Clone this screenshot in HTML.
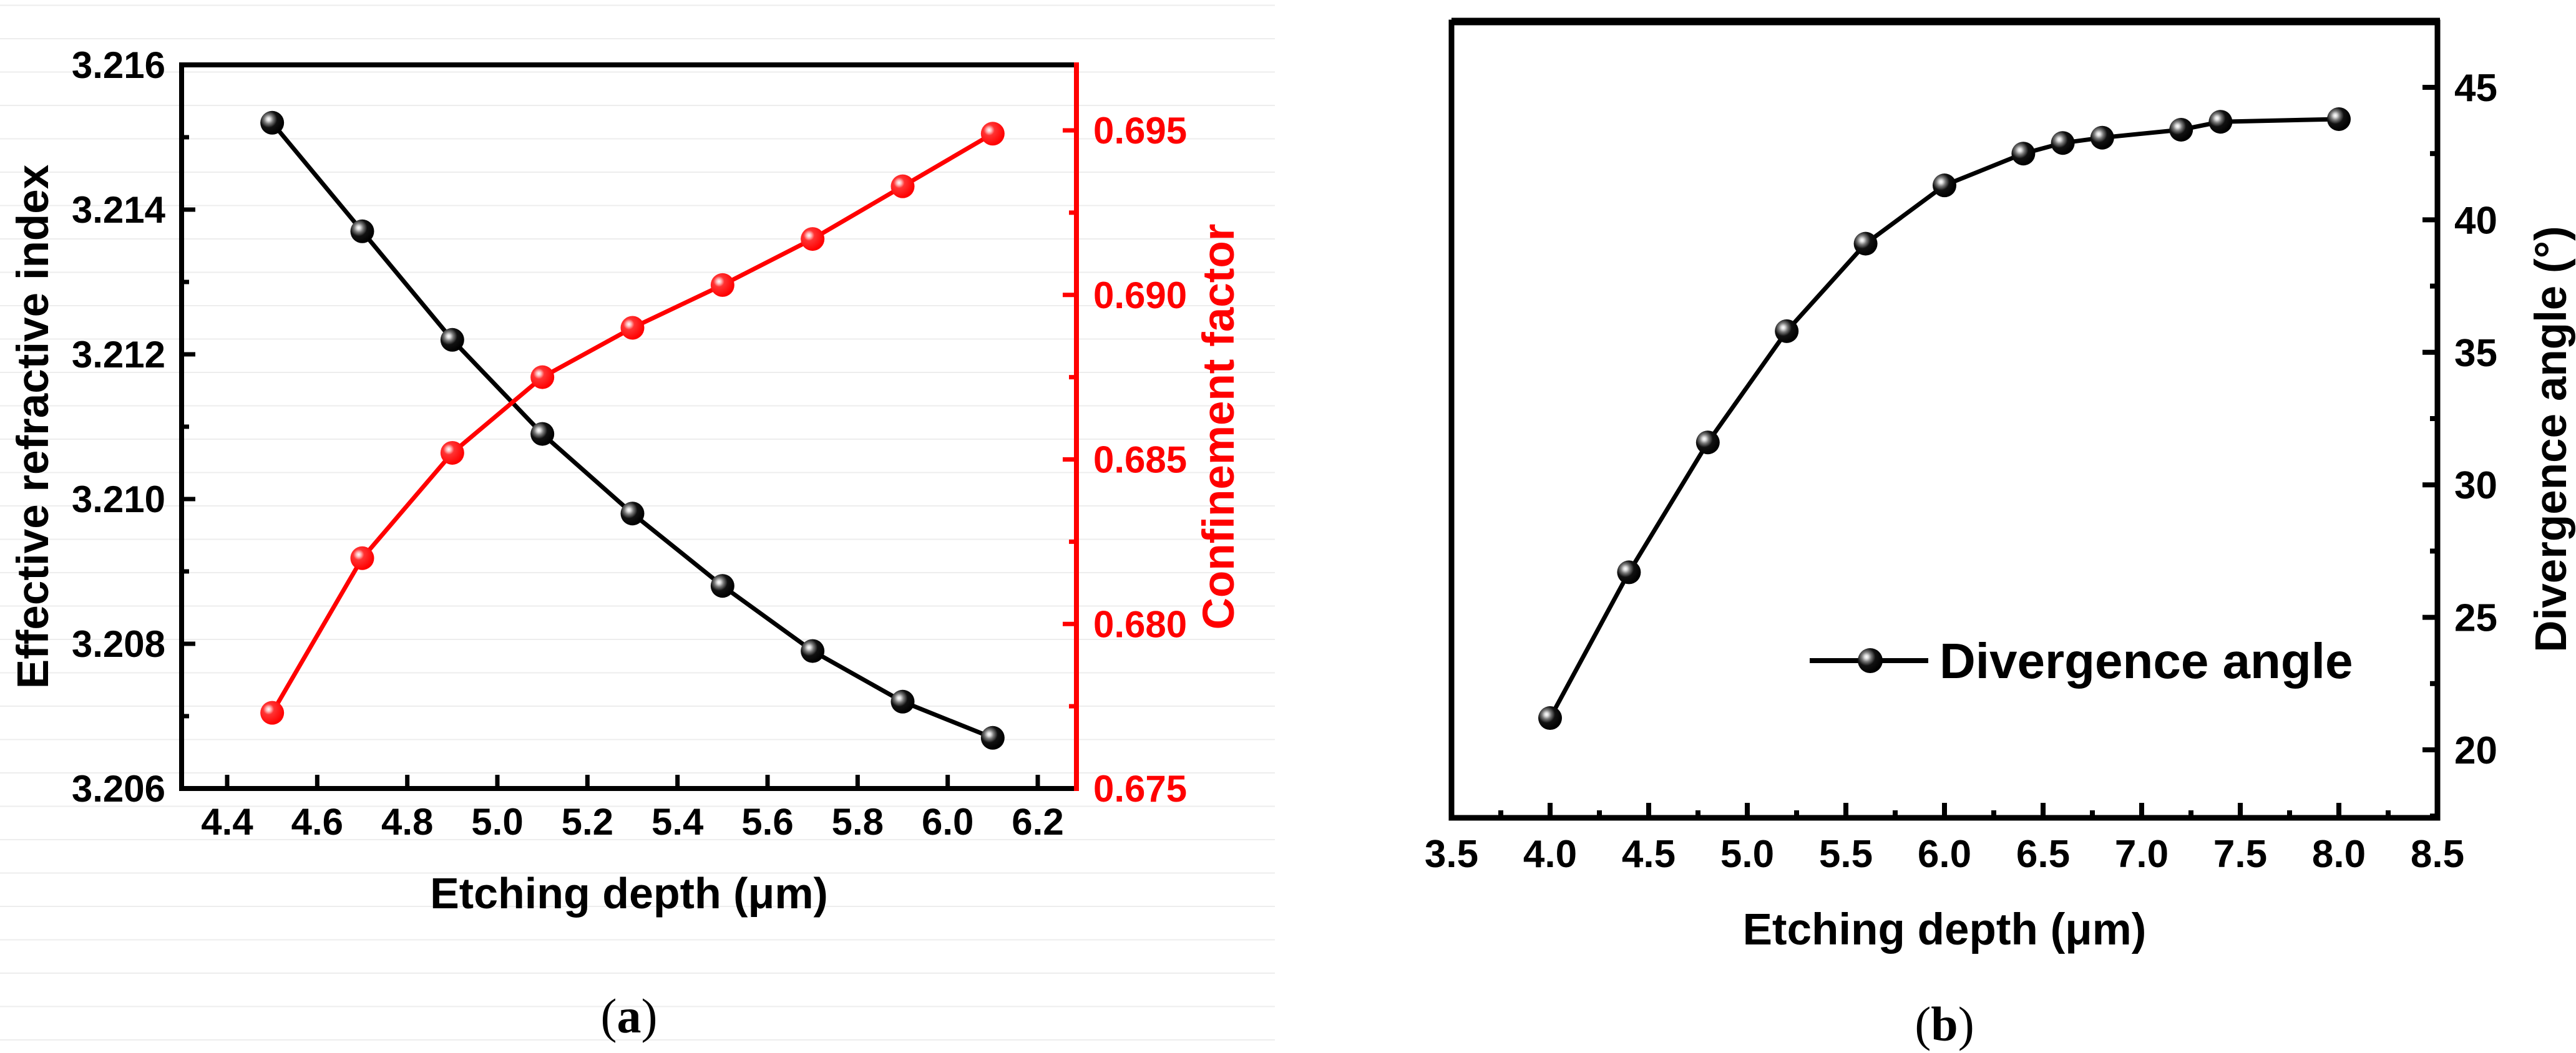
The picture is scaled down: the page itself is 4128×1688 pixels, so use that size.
<!DOCTYPE html>
<html><head><meta charset="utf-8"><style>
html,body{margin:0;padding:0;background:#fff;}
svg{display:block;font-family:"Liberation Sans",Arial,sans-serif;}
</style></head><body>
<svg id="fig" width="4128" height="1688" viewBox="0 0 4128 1688" xmlns="http://www.w3.org/2000/svg">
<defs>
<radialGradient id="gk" cx="0.35" cy="0.35" r="0.65">
<stop offset="0" stop-color="#fff"/><stop offset="0.12" stop-color="#ddd"/><stop offset="0.3" stop-color="#777"/><stop offset="0.55" stop-color="#111"/><stop offset="1" stop-color="#000"/>
</radialGradient>
<radialGradient id="gr" cx="0.35" cy="0.35" r="0.65">
<stop offset="0" stop-color="#fff"/><stop offset="0.15" stop-color="#fbb"/><stop offset="0.35" stop-color="#f33"/><stop offset="1" stop-color="#f00"/>
</radialGradient>
</defs>
<g id="grid"></g>
<g id="pa"></g>
<g id="pb"></g>
</svg>
<script>
// Panel (a) data
const aDepth = [4.5, 4.7, 4.9, 5.1, 5.3, 5.5, 5.7, 5.9, 6.1];
const aIndex = [3.2152, 3.2137, 3.2122, 3.2109, 3.2098, 3.2088, 3.2079, 3.2072, 3.2067];
const aConf = [0.6773, 0.6820, 0.6852, 0.6875, 0.6890, 0.6903, 0.6917, 0.6933, 0.6949];
const aXTicks = ["4.4","4.6","4.8","5.0","5.2","5.4","5.6","5.8","6.0","6.2"];
const aYTicks = ["3.206","3.208","3.210","3.212","3.214","3.216"];
const aY2Ticks = ["0.675","0.680","0.685","0.690","0.695"];
// Panel (b) data
const bDepth = [4.0, 4.4, 4.8, 5.2, 5.6, 6.0, 6.4, 6.6, 6.8, 7.2, 7.4, 8.0];
const bAngle = [21.2, 26.7, 31.6, 35.8, 39.1, 41.3, 42.5, 42.9, 43.1, 43.4, 43.7, 43.8];
const bXTicks = ["3.5","4.0","4.5","5.0","5.5","6.0","6.5","7.0","7.5","8.0","8.5"];
const bYTicks = ["20","25","30","35","40","45"];

const NS = "http://www.w3.org/2000/svg";
function mk(parent, tag, attrs, text) {
  const e = document.createElementNS(NS, tag);
  for (const k in attrs) e.setAttribute(k, attrs[k]);
  if (text !== undefined) e.textContent = text;
  parent.appendChild(e);
  return e;
}
function lin(d0, d1, p0, p1) { return v => p0 + (v - d0) * (p1 - p0) / (d1 - d0); }

// faint background lines
const grid = document.getElementById('grid');
for (let y = 8.5; y < 1688; y += 53.5) {
  const l = mk(grid, 'line', {x1: 0, x2: 2043, y1: y, y2: y, stroke: '#ededed', 'stroke-width': 2});
  
  
}

// ---------- Panel A ----------
const pa = document.getElementById('pa');
const ax = lin(4.4, 6.2, 364, 1663);
const ay = lin(3.206, 3.216, 1264, 104);
const ay2 = lin(0.675, 0.695, 1264, 209);
const aL = 291, aR = 1725, aT = 104, aB = 1264;

// ticks bottom
aXTicks.forEach((t) => {
  const x = ax(parseFloat(t));
  const tk = mk(pa, 'line', {x1: x, x2: x, y1: aB, y2: aB - 22, stroke: '#000', 'stroke-width': 7});
  
  
  const tx = mk(pa, 'text', {x: x, y: 1338, 'text-anchor': 'middle', 'font-size': 60, 'font-weight': 'bold'}, t);
  
  
});
aYTicks.forEach((t, i) => {
  const v = parseFloat(t);
  const y = ay(v);
  const tk = mk(pa, 'line', {x1: aL, x2: aL + 22, y1: y, y2: y, stroke: '#000', 'stroke-width': 7});
  
  
  if (i < aYTicks.length - 1) {
    const ym = ay(v + 0.001);
    const mt = mk(pa, 'line', {x1: aL, x2: aL + 12, y1: ym, y2: ym, stroke: '#000', 'stroke-width': 7});
    
    
  }
  const tx = mk(pa, 'text', {x: 265, y: y + 21, 'text-anchor': 'end', 'font-size': 60, 'font-weight': 'bold'}, t);
  
  
});
aY2Ticks.forEach((t, i) => {
  const v = parseFloat(t);
  const y = ay2(v);
  const tk = mk(pa, 'line', {x1: aR, x2: aR - 22, y1: y, y2: y, stroke: '#f00', 'stroke-width': 7});
  
  
  const ym = ay2(v + 0.0025);
  if (ym > aT) {
    const mt = mk(pa, 'line', {x1: aR, x2: aR - 12, y1: ym, y2: ym, stroke: '#f00', 'stroke-width': 7});
    
    
  }
  const tx = mk(pa, 'text', {x: 1752, y: y + 21, 'font-size': 60, 'font-weight': 'bold', fill: '#f00'}, t);
  
  
});
// frame
const fa = mk(pa, 'path', {d: `M${aR},${aT} L${aL},${aT} L${aL},${aB} L${aR},${aB}`, fill: 'none', stroke: '#000', 'stroke-width': 8});


const ra = mk(pa, 'line', {x1: aR, x2: aR, y1: aT - 4, y2: aB + 4, stroke: '#f00', 'stroke-width': 8});



// series
function series(g, xs, ys, fx, fy, color, grad, name) {
  const pts = xs.map((x, i) => `${fx(x)},${fy(ys[i])}`).join(' ');
  const pl = mk(g, 'polyline', {points: pts, fill: 'none', stroke: color, 'stroke-width': 7, 'stroke-linejoin': 'round'});
  
  
  xs.forEach((x, i) => {
    const c = mk(g, 'circle', {cx: fx(x), cy: fy(ys[i]), r: 19, fill: `url(#${grad})`});
    
    
  });
}
series(pa, aDepth, aIndex, ax, ay, '#000', 'gk', 'refractive-index');
series(pa, aDepth, aConf, ax, ay2, '#f00', 'gr', 'confinement-factor');

const xta = mk(pa, 'text', {x: 1008, y: 1456, 'text-anchor': 'middle', 'font-size': 70, 'font-weight': 'bold'}, 'Etching depth (μm)');


const yta = mk(pa, 'text', {x: 0, y: 0, transform: 'translate(77,684) rotate(-90)', 'text-anchor': 'middle', 'font-size': 71, 'font-weight': 'bold'}, 'Effective refractive index');


const y2ta = mk(pa, 'text', {x: 0, y: 0, transform: 'translate(1977,684) rotate(-90)', 'text-anchor': 'middle', 'font-size': 71, 'font-weight': 'bold', fill: '#f00'}, 'Confinement factor');


const capA = mk(pa, 'text', {x: 1008, y: 1655, 'text-anchor': 'middle', 'font-size': 78, 'font-family': '"Liberation Serif",serif'});


capA.innerHTML = '(<tspan font-weight="bold">a</tspan>)';

// ---------- Panel B ----------
const pb = document.getElementById('pb');
const bx = lin(3.5, 8.5, 2326, 3906);
const by = lin(20, 45, 1202, 140);
const bL = 2326, bR = 3906, bT = 36, bB = 1311;
bXTicks.forEach((t, i) => {
  const v = parseFloat(t);
  const x = bx(v);
  const tk = mk(pb, 'line', {x1: x, x2: x, y1: bB, y2: bB - 24, stroke: '#000', 'stroke-width': 8});
  
  
  if (i < bXTicks.length - 1) {
    const xm = bx(v + 0.25);
    const mt = mk(pb, 'line', {x1: xm, x2: xm, y1: bB, y2: bB - 12, stroke: '#000', 'stroke-width': 8});
    
    
  }
  const tx = mk(pb, 'text', {x: x, y: 1390, 'text-anchor': 'middle', 'font-size': 62, 'font-weight': 'bold'}, t);
  
  
});
bYTicks.forEach((t) => {
  const v = parseFloat(t);
  const y = by(v);
  const tk = mk(pb, 'line', {x1: bR, x2: bR - 24, y1: y, y2: y, stroke: '#000', 'stroke-width': 8});
  
  
  [v - 2.5, v + 2.5].forEach(m => {
    const ym = by(m);
    if (ym > bT && ym < bB && (m === v + 2.5 || v === 20)) {
      const mt = mk(pb, 'line', {x1: bR, x2: bR - 12, y1: ym, y2: ym, stroke: '#000', 'stroke-width': 8});
      
      
    }
  });
  const tx = mk(pb, 'text', {x: 3933, y: y + 22, 'font-size': 62, 'font-weight': 'bold'}, t);
  
  
});
const fb = mk(pb, 'rect', {x: bL, y: bT, width: bR - bL, height: bB - bT, fill: 'none', stroke: '#000', 'stroke-width': 9});


const fb2 = mk(pb, 'line', {x1: bL, x2: bR + 4, y1: 30, y2: 30, stroke: '#000', 'stroke-width': 3});


series(pb, bDepth, bAngle, bx, by, '#000', 'gk', 'divergence-angle');

// legend
const lg = mk(pb, 'g', {});


const ll = mk(lg, 'line', {x1: 2900, x2: 3090, y1: 1059, y2: 1059, stroke: '#000', 'stroke-width': 8});


const lm = mk(lg, 'circle', {cx: 2997, cy: 1059, r: 20, fill: 'url(#gk)'});


const lt = mk(lg, 'text', {x: 3108, y: 1087, 'font-size': 80, 'font-weight': 'bold'}, 'Divergence angle');



const xtb = mk(pb, 'text', {x: 3116, y: 1514, 'text-anchor': 'middle', 'font-size': 71, 'font-weight': 'bold'}, 'Etching depth (μm)');


const ytb = mk(pb, 'text', {x: 0, y: 0, transform: 'translate(4112,704) rotate(-90)', 'text-anchor': 'middle', 'font-size': 71, 'font-weight': 'bold'}, 'Divergence angle (°)');


const capB = mk(pb, 'text', {x: 3116, y: 1668, 'text-anchor': 'middle', 'font-size': 78, 'font-family': '"Liberation Serif",serif'});


capB.innerHTML = '(<tspan font-weight="bold">b</tspan>)';
</script>
</body></html>
